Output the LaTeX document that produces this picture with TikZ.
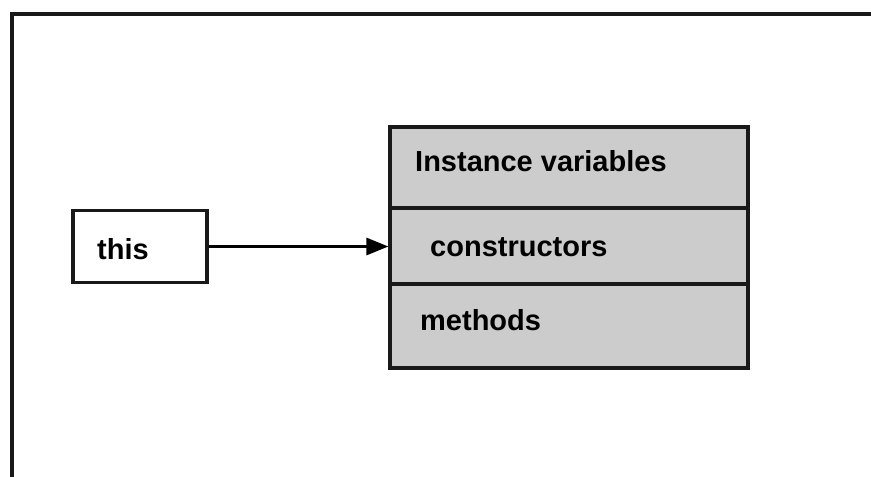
\documentclass[tikz,border=0pt]{standalone}
\usepackage{fontspec}
\setmainfont{Liberation Sans}
\usetikzlibrary{arrows.meta}
\tikzset{
  box/.style={draw=black!90, line width=3.2pt, inner sep=0pt},
  part/.style={box, fill=black!20, minimum width=358pt},
  lbl/.style={anchor=west, inner sep=0pt, font=\fontsize{29}{33}\selectfont\bfseries},
  conn/.style={line width=3pt, -{Triangle[length=22pt,width=17pt]}}
}
\begin{document}
\begin{tikzpicture}[x=1pt,y=-1pt]
\useasboundingbox (0,0) rectangle (871,477);
\draw[line width=3.5pt, black!90] (12,477) -- (12,14) -- (871,14);
\node[box, minimum width=134pt, minimum height=72pt] (this) at (140,246.5) {};
\node[lbl] (thislbl) at (97,249) {this};
\node[part, minimum height=81pt] (iv) at (569,167.5) {};
\node[part, minimum height=76pt] (ctor) at (569,246.5) {};
\node[part, minimum height=84pt] (meth) at (569,326) {};
\node[lbl] (ivlbl) at (415,161) {Instance variables};
\node[lbl] (ctorlbl) at (430,247) {constructors};
\node[lbl] (methlbl) at (420,320) {methods};
\draw[conn] (this.east) -- (ctor.west);
\end{tikzpicture}
\end{document}
